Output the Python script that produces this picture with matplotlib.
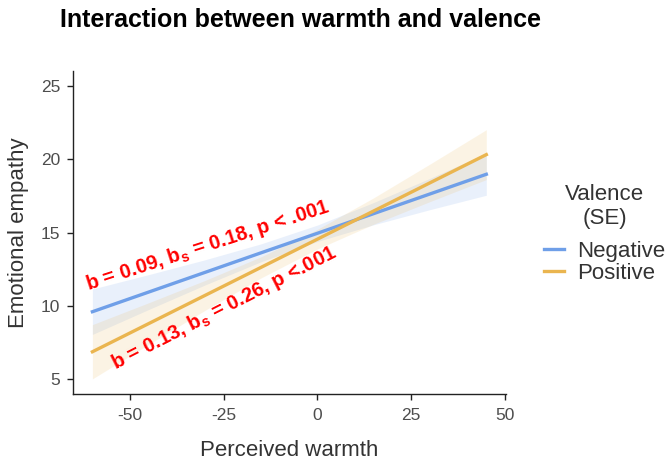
import matplotlib
matplotlib.use("Agg")
import matplotlib.pyplot as plt

plt.rcParams['font.family'] = ['Liberation Sans', 'DejaVu Sans']
plt.rcParams['mathtext.fontset'] = 'custom'
plt.rcParams['mathtext.rm'] = 'Liberation Sans:bold'

warmth = [-60, -45, -30, -15, 0, 15, 30, 45]

neg_fit = [9.61, 10.95, 12.29, 13.63, 14.96, 16.30, 17.64, 18.98]
neg_lo = [8.06, 9.76, 11.43, 13.02, 14.40, 15.54, 16.57, 17.55]
neg_hi = [11.16, 12.14, 13.15, 14.24, 15.52, 17.06, 18.71, 20.41]

pos_fit = [6.88, 8.80, 10.72, 12.64, 14.56, 16.48, 18.40, 20.32]
pos_lo = [5.03, 7.38, 9.70, 11.92, 13.89, 15.58, 17.12, 18.62]
pos_hi = [8.73, 10.22, 11.74, 13.36, 15.23, 17.38, 19.68, 22.02]

xticks = [-50, -25, 0, 25, 50]
yticks = [5, 10, 15, 20, 25]

blue = '#6f9fe8'
orange = '#eab54f'
tick_col = '#4d4d4d'

fig = plt.figure(figsize=(6.72, 4.63), dpi=100)
ax = fig.add_axes([0.1082, 0.149, 0.6448, 0.697])

ax.fill_between(warmth, neg_lo, neg_hi, color=blue, alpha=0.15, lw=0)
ax.fill_between(warmth, pos_lo, pos_hi, color=orange, alpha=0.15, lw=0)
ax.plot(warmth, neg_fit, color=blue, lw=2.4, label='Negative')
ax.plot(warmth, pos_fit, color=orange, lw=2.4, label='Positive')

ax.set_xlim(-65.25, 50.25)
ax.set_ylim(4, 26)
ax.set_xticks(xticks)
ax.set_yticks(yticks)
ax.set_xticklabels([str(t) for t in xticks])
ax.set_yticklabels([str(t) for t in yticks])

for s in ['top', 'right']:
    ax.spines[s].set_visible(False)
for s in ['left', 'bottom']:
    ax.spines[s].set_color('#222222')
    ax.spines[s].set_linewidth(1.0)
ax.tick_params(axis='both', length=4, width=1.0, color='#222222',
               labelsize=12.5, labelcolor=tick_col)
ax.tick_params(axis='x', pad=6)
ax.tick_params(axis='y', pad=5)

ax.set_xlabel('Perceived warmth', fontsize=16, color='#333333', labelpad=12)
ax.set_ylabel('Emotional empathy', fontsize=16, color='#333333', va='center')
ax.yaxis.set_label_coords(-0.125, 0.5)

ax.text(-61.1, 11.1, r'b = 0.09, b$_\mathrm{s}$ = 0.18, p < .001', color='red',
        fontsize=14.5, fontweight='bold', rotation=18, rotation_mode='anchor',
        ha='left', va='baseline')
ax.text(-53.9, 5.64, r'b = 0.13, b$_\mathrm{s}$ = 0.26, p <.001', color='red',
        fontsize=14.5, fontweight='bold', rotation=27, rotation_mode='anchor',
        ha='left', va='baseline')

leg = ax.legend(title='Valence\n(SE)', loc='center left',
                bbox_to_anchor=(533 / 672, 1 - 234 / 463),
                bbox_transform=fig.transFigure, frameon=False,
                fontsize=16, title_fontsize=16, handlelength=0.9,
                handletextpad=0.6, labelspacing=0.05, borderpad=0)
leg._legend_box.sep = 8
for t in leg.get_texts():
    t.set_color('#333333')
leg.get_title().set_color('#333333')
leg.get_title().set_multialignment('center')

fig.text(300 / 672, 1 - 27 / 463, 'Interaction between warmth and valence',
         fontsize=18, fontweight='bold', ha='center', va='baseline')

fig.savefig('out.png', dpi=100)
